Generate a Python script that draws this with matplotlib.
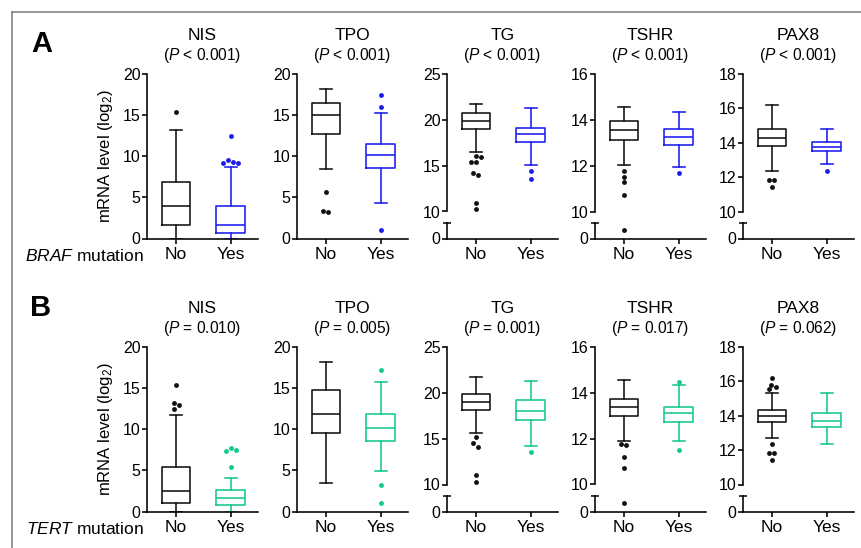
import numpy as np
import matplotlib
matplotlib.use('Agg')
import matplotlib.pyplot as plt
from matplotlib.lines import Line2D

plt.rcParams['font.family'] = 'sans-serif'
plt.rcParams['font.sans-serif'] = ['Liberation Sans', 'DejaVu Sans']
plt.rcParams['mathtext.fontset'] = 'custom'
plt.rcParams['mathtext.rm'] = 'Liberation Sans'
plt.rcParams['mathtext.it'] = 'Liberation Sans:italic'

genes = ['NIS', 'TPO', 'TG', 'TSHR', 'PAX8']
p_braf = ['< 0.001', '< 0.001', '< 0.001', '< 0.001', '< 0.001']
p_tert = ['= 0.010', '= 0.005', '= 0.001', '= 0.017', '= 0.062']
groups = ['No', 'Yes']

# box stats per gene: whisker low, Q1, median, Q3, whisker high
braf_no = [[0.0, 1.6, 3.95, 6.9, 13.2],
           [8.45, 12.7, 15.0, 16.5, 18.2],
           [16.45, 18.95, 19.85, 20.75, 21.75],
           [12.03, 13.12, 13.56, 13.97, 14.58],
           [12.35, 13.8, 14.27, 14.8, 16.19]]
braf_no_out = [[15.35],
               [5.6, 3.4, 3.2],
               [16.06, 15.9, 15.44, 15.44, 14.2, 14.0, 10.9, 10.25],
               [11.78, 11.49, 11.27, 10.7, 4.2],
               [11.85, 11.85, 11.42]]
braf_yes = [[0.0, 0.7, 1.6, 4.0, 8.65],
            [4.3, 8.6, 10.1, 11.5, 15.25],
            [15.1, 17.6, 18.45, 19.1, 21.3],
            [11.93, 12.9, 13.27, 13.58, 14.36],
            [12.75, 13.5, 13.77, 14.04, 14.79]]
braf_yes_out = [[12.45, 9.5, 9.25, 9.2, 9.2],
                [17.5, 16.0, 1.0],
                [14.45, 13.55],
                [11.67],
                [12.37]]
tert_no = [[0.0, 1.0, 2.55, 5.4, 11.7],
           [3.5, 9.55, 11.85, 14.8, 18.2],
           [15.65, 18.08, 18.99, 19.82, 21.74],
           [11.9, 12.99, 13.39, 13.75, 14.58],
           [12.73, 13.61, 13.96, 14.33, 15.35]]
tert_no_out = [[15.35, 13.2, 13.0, 12.5],
               [],
               [15.2, 14.5, 14.13, 11.05, 10.3],
               [11.78, 11.71, 11.22, 10.7, 4.2],
               [16.2, 15.8, 15.7, 15.55, 12.33, 11.85, 11.85, 11.4]]
tert_yes = [[0.0, 0.85, 1.65, 2.65, 4.05],
            [4.9, 8.6, 10.15, 11.85, 15.8],
            [14.2, 17.03, 18.0, 19.2, 21.27],
            [11.9, 12.72, 13.13, 13.39, 14.35],
            [12.34, 13.32, 13.71, 14.16, 15.3]]
tert_yes_out = [[7.7, 7.45, 7.3, 5.4],
                [17.2, 3.2, 1.0],
                [13.55],
                [14.49, 11.49],
                []]

# y axis: (start of upper segment, top, step); start 0 = unbroken axis
y_axes = [(0, 20, 5), (0, 20, 5), (10, 25, 5), (10, 16, 2), (10, 18, 2)]
low_top = 8  # top of the short lower segment on broken axes

W, H = 861, 548
lefts = [147, 297, 447, 595, 743]
AXW = 111
XLIM = (0.47, 2.5)
DOT = 5.0  # flier diameter in px

black = '#111111'
blue = '#1c1cf0'
green = '#14c98c'

fig = plt.figure(figsize=(W / 100, H / 100), dpi=100)


def rect(left, top, bottom):
    return [left / W, 1 - bottom / H, AXW / W, (bottom - top) / H]


def swarm(vals, sy):
    # spread close fliers sideways, like GraphPad does
    placed = []
    cands = [0] + [s * n for n in range(1, 10) for s in (1, -1)]
    for v in vals:
        for c in cands:
            off = c * DOT / 2
            if all(np.hypot(off - po, (v - pv) * sy) >= DOT * 0.95 for po, pv in placed):
                break
        placed.append((off, v))
    offs = np.array([p[0] for p in placed])
    # center each cluster
    order = np.argsort(vals)
    clusters = []
    for idx in order:
        if clusters and abs(vals[idx] - vals[clusters[-1][-1]]) * sy < DOT:
            clusters[-1].append(idx)
        else:
            clusters.append([idx])
    for cl in clusters:
        offs[cl] -= offs[cl].mean()
    return offs


def draw_row(dy, no_stats, no_out, yes_stats, yes_out, pvals, color, mut):
    for i, g in enumerate(genes):
        lo, hi, step = y_axes[i]
        top = 74 + dy
        if lo == 0:
            ax = fig.add_axes(rect(lefts[i], top, 238.5 + dy))
            axes = [ax]
            top_ax = bot_ax = ax
            ax.set_ylim(0, hi)
            ax.set_yticks(np.arange(0, hi + 0.1, step))
            sy = (238.5 - 74) / hi
        else:
            top_ax = fig.add_axes(rect(lefts[i], top, 211.5 + dy))
            bot_ax = fig.add_axes(rect(lefts[i], 223 + dy, 238.5 + dy))
            axes = [top_ax, bot_ax]
            top_ax.set_ylim(lo, hi)
            top_ax.set_yticks(np.arange(lo, hi + 0.1, step))
            bot_ax.set_ylim(0, low_top)
            bot_ax.set_yticks([0])
            bot_ax.set_yticks([low_top], minor=True)
            bot_ax.tick_params(axis='y', which='minor', direction='inout', length=6, width=1.1)
            top_ax.spines['bottom'].set_visible(False)
            top_ax.tick_params(axis='x', bottom=False, labelbottom=False)
            sy = (211.5 - 74) / (hi - lo)
        sx = AXW / (XLIM[1] - XLIM[0])

        for ax in axes:
            for pos, st, out, c in [(1, no_stats[i], no_out[i], black),
                                    (2, yes_stats[i], yes_out[i], color)]:
                stats = [dict(whislo=st[0], q1=st[1], med=st[2], q3=st[3], whishi=st[4], fliers=[])]
                lp = dict(color=c, linewidth=1.15)
                ax.bxp(stats, positions=[pos], widths=0.52, capwidths=0.22,
                       showfliers=False, manage_ticks=False,
                       boxprops=lp, whiskerprops=lp, capprops=lp, medianprops=lp)
                if out:
                    offs = swarm(np.array(out, float), sy) / sx
                    ax.plot(pos + offs, out, 'o', color=c, markersize=3.5,
                            markeredgewidth=0, zorder=3)
            ax.set_xlim(*XLIM)
            ax.spines['top'].set_visible(False)
            ax.spines['right'].set_visible(False)
            for s in ax.spines.values():
                s.set_linewidth(1.15)
            ax.tick_params(axis='y', which='major', length=3.6, width=1.15, pad=1, labelsize=11.5)
            ax.patch.set_alpha(0)

        bot_ax.set_xticks([1, 2])
        bot_ax.set_xticklabels(groups)
        bot_ax.tick_params(axis='x', length=3.6, width=1.15, pad=2.5, labelsize=12.5)

        top_ax.annotate(g, xy=(0.5, 1), xycoords='axes fraction', xytext=(0, 27.5),
                        textcoords='offset points', ha='center', va='center', fontsize=12.5)
        top_ax.annotate('($\\mathit{P}$ ' + pvals[i] + ')', xy=(0.5, 1), xycoords='axes fraction',
                        xytext=(0, 13), textcoords='offset points', ha='center', va='center',
                        fontsize=11.2)
        if i == 0:
            top_ax.set_ylabel('mRNA level (log$_2$)', fontsize=12)
            top_ax.yaxis.set_label_coords(-0.29, 0.5)
            fig.text(144 / W, 1 - (256 + dy) / H, '$\\mathit{' + mut + '}$ mutation',
                     ha='right', va='center', fontsize=12.5)


draw_row(0, braf_no, braf_no_out, braf_yes, braf_yes_out, p_braf, blue, 'BRAF')
draw_row(273, tert_no, tert_no_out, tert_yes, tert_yes_out, p_tert, green, 'TERT')

fig.text(42 / W, 1 - 44 / H, 'A', fontsize=21, fontweight='bold', ha='center', va='center')
fig.text(41 / W, 1 - 308 / H, 'B', fontsize=21, fontweight='bold', ha='center', va='center')

# frame around the figure
fig.add_artist(Line2D([11.5 / W, 11.5 / W], [1 - 11.5 / H, 0], color='#7a7a7a', lw=1.1))
fig.add_artist(Line2D([11.5 / W, 1], [1 - 11.5 / H, 1 - 11.5 / H], color='#7a7a7a', lw=1.1))

fig.savefig('out.png', dpi=100)
